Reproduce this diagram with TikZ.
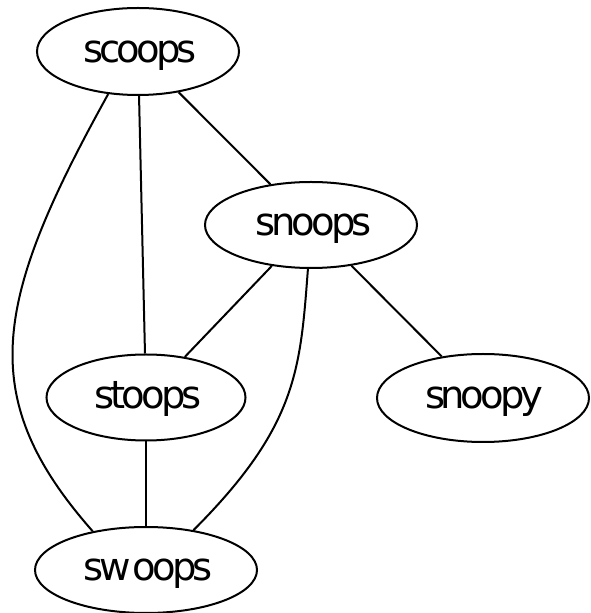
\documentclass[tikz,border=0pt]{standalone}
\usepackage{fontspec}
\setmainfont{DejaVu Sans}
\newfontfamily\advfont{Liberation Serif}
\usetikzlibrary{shapes.geometric}

% Each glyph is set in DejaVu Sans but advanced by the Times-metric width
\newsavebox\advbox
\newcommand\gch[1]{\sbox\advbox{\advfont\fontsize{40}{48}\selectfont #1}\makebox[\wd\advbox][l]{#1}}
\makeatletter
\newcommand\gvword[1]{\@tfor\gv@c:=#1\do{\gch{\gv@c}}}
\makeatother
% a glyph with a given advance
\newcommand\gwide[2]{\makebox[#1][l]{#2}}

\tikzset{
  gvnode/.style={ellipse, draw, line width=2pt, inner sep=0pt,
    minimum height=86pt, text height=30pt, text depth=8pt,
    font=\fontsize{38.5}{46}\selectfont},
  gvedge/.style={line width=2pt}
}

\begin{document}
\begin{tikzpicture}[x=1pt, y=1pt]
  \useasboundingbox (0,0) rectangle (590,613);

  \node[gvnode, minimum width=202pt, minimum height=87pt] (scoops) at (138,561.5) {\gvword{scoops}};
  \node[gvnode, minimum width=212pt] (snoops) at (311,388) {\gvword{snoops}};
  \node[gvnode, minimum width=199pt] (stoops) at (146,215.5) {\gvword{stoops}};
  \node[gvnode, minimum width=212pt, minimum height=88pt] (snoopy) at (483,215) {\gvword{snoopy}};
  \node[gvnode, minimum width=222pt] (swoops) at (146,43) {\gch{s}\gwide{33pt}{w}\gvword{oops}};

  \draw[gvedge] (scoops) -- (snoops);
  \draw[gvedge] (scoops) -- (stoops);
  \draw[gvedge] (scoops.235) .. controls (-6.5,312) and (-25.8,216) .. (swoops.144);
  \draw[gvedge] (snoops) -- (stoops);
  \draw[gvedge] (snoops) -- (snoopy);
  \draw[gvedge] (snoops.266) .. controls (300.3,243.5) and (297.3,186.7) .. (swoops.40);
  \draw[gvedge] (stoops) -- (swoops);
\end{tikzpicture}
\end{document}
